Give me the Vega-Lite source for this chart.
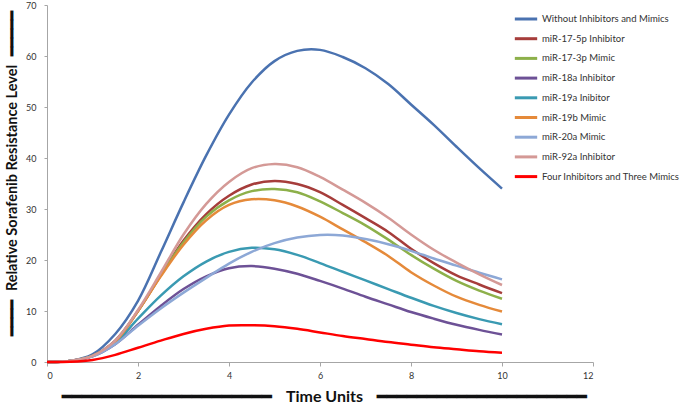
{
  "$schema": "https://vega.github.io/schema/vega-lite/v6.json",
  "width": 546,
  "height": 357,
  "autosize": {"type": "none"},
  "padding": {"left": 47, "top": 5, "right": 92, "bottom": 44},
  "background": "white",
  "config": {"view": {"stroke": null}, "font": "Lato"},
  "datasets": {
    "curves": [
      {"s": "Without Inhibitors and Mimics", "t": 0, "v": 0}, {"s": "Without Inhibitors and Mimics", "t": 0.5, "v": 0.2}, {"s": "Without Inhibitors and Mimics", "t": 1, "v": 1.5}, {"s": "Without Inhibitors and Mimics", "t": 1.5, "v": 5.5}, {"s": "Without Inhibitors and Mimics", "t": 2, "v": 12}, {"s": "Without Inhibitors and Mimics", "t": 2.5, "v": 21.5}, {"s": "Without Inhibitors and Mimics", "t": 3, "v": 31.3}, {"s": "Without Inhibitors and Mimics", "t": 3.5, "v": 40.5}, {"s": "Without Inhibitors and Mimics", "t": 4, "v": 48.5}, {"s": "Without Inhibitors and Mimics", "t": 4.5, "v": 54.8}, {"s": "Without Inhibitors and Mimics", "t": 5, "v": 59}, {"s": "Without Inhibitors and Mimics", "t": 5.5, "v": 61}, {"s": "Without Inhibitors and Mimics", "t": 6, "v": 61.2}, {"s": "Without Inhibitors and Mimics", "t": 6.5, "v": 59.8}, {"s": "Without Inhibitors and Mimics", "t": 7, "v": 57.6}, {"s": "Without Inhibitors and Mimics", "t": 7.5, "v": 54.5}, {"s": "Without Inhibitors and Mimics", "t": 8, "v": 50.5}, {"s": "Without Inhibitors and Mimics", "t": 8.5, "v": 46.5}, {"s": "Without Inhibitors and Mimics", "t": 9, "v": 42.2}, {"s": "Without Inhibitors and Mimics", "t": 9.5, "v": 38}, {"s": "Without Inhibitors and Mimics", "t": 10, "v": 34},

      {"s": "miR-17-5p Inhibitor", "t": 0, "v": 0}, {"s": "miR-17-5p Inhibitor", "t": 0.5, "v": 0.2}, {"s": "miR-17-5p Inhibitor", "t": 1, "v": 1.2}, {"s": "miR-17-5p Inhibitor", "t": 1.5, "v": 4.2}, {"s": "miR-17-5p Inhibitor", "t": 2, "v": 10}, {"s": "miR-17-5p Inhibitor", "t": 2.5, "v": 17}, {"s": "miR-17-5p Inhibitor", "t": 3, "v": 23.8}, {"s": "miR-17-5p Inhibitor", "t": 3.5, "v": 29}, {"s": "miR-17-5p Inhibitor", "t": 4, "v": 32.6}, {"s": "miR-17-5p Inhibitor", "t": 4.5, "v": 34.8}, {"s": "miR-17-5p Inhibitor", "t": 5, "v": 35.5}, {"s": "miR-17-5p Inhibitor", "t": 5.5, "v": 34.9}, {"s": "miR-17-5p Inhibitor", "t": 6, "v": 33.3}, {"s": "miR-17-5p Inhibitor", "t": 6.5, "v": 30.8}, {"s": "miR-17-5p Inhibitor", "t": 7, "v": 28.2}, {"s": "miR-17-5p Inhibitor", "t": 7.5, "v": 25.5}, {"s": "miR-17-5p Inhibitor", "t": 8, "v": 22.2}, {"s": "miR-17-5p Inhibitor", "t": 8.5, "v": 19.4}, {"s": "miR-17-5p Inhibitor", "t": 9, "v": 17}, {"s": "miR-17-5p Inhibitor", "t": 9.5, "v": 15.2}, {"s": "miR-17-5p Inhibitor", "t": 10, "v": 13.5},

      {"s": "miR-17-3p Mimic", "t": 0, "v": 0}, {"s": "miR-17-3p Mimic", "t": 0.5, "v": 0.2}, {"s": "miR-17-3p Mimic", "t": 1, "v": 1.2}, {"s": "miR-17-3p Mimic", "t": 1.5, "v": 4.1}, {"s": "miR-17-3p Mimic", "t": 2, "v": 10}, {"s": "miR-17-3p Mimic", "t": 2.5, "v": 17}, {"s": "miR-17-3p Mimic", "t": 3, "v": 23.5}, {"s": "miR-17-3p Mimic", "t": 3.5, "v": 28.5}, {"s": "miR-17-3p Mimic", "t": 4, "v": 31.7}, {"s": "miR-17-3p Mimic", "t": 4.5, "v": 33.5}, {"s": "miR-17-3p Mimic", "t": 5, "v": 33.9}, {"s": "miR-17-3p Mimic", "t": 5.5, "v": 33.3}, {"s": "miR-17-3p Mimic", "t": 6, "v": 31.5}, {"s": "miR-17-3p Mimic", "t": 6.5, "v": 29.2}, {"s": "miR-17-3p Mimic", "t": 7, "v": 26.8}, {"s": "miR-17-3p Mimic", "t": 7.5, "v": 24}, {"s": "miR-17-3p Mimic", "t": 8, "v": 21}, {"s": "miR-17-3p Mimic", "t": 8.5, "v": 18.3}, {"s": "miR-17-3p Mimic", "t": 9, "v": 15.9}, {"s": "miR-17-3p Mimic", "t": 9.5, "v": 14}, {"s": "miR-17-3p Mimic", "t": 10, "v": 12.4},

      {"s": "miR-18a Inhibitor", "t": 0, "v": 0}, {"s": "miR-18a Inhibitor", "t": 0.5, "v": 0.2}, {"s": "miR-18a Inhibitor", "t": 1, "v": 1.1}, {"s": "miR-18a Inhibitor", "t": 1.5, "v": 3.5}, {"s": "miR-18a Inhibitor", "t": 2, "v": 7.3}, {"s": "miR-18a Inhibitor", "t": 2.5, "v": 11}, {"s": "miR-18a Inhibitor", "t": 3, "v": 14.3}, {"s": "miR-18a Inhibitor", "t": 3.5, "v": 16.8}, {"s": "miR-18a Inhibitor", "t": 4, "v": 18.4}, {"s": "miR-18a Inhibitor", "t": 4.5, "v": 18.8}, {"s": "miR-18a Inhibitor", "t": 5, "v": 18.3}, {"s": "miR-18a Inhibitor", "t": 5.5, "v": 17.3}, {"s": "miR-18a Inhibitor", "t": 6, "v": 15.9}, {"s": "miR-18a Inhibitor", "t": 6.5, "v": 14.4}, {"s": "miR-18a Inhibitor", "t": 7, "v": 12.8}, {"s": "miR-18a Inhibitor", "t": 7.5, "v": 11.3}, {"s": "miR-18a Inhibitor", "t": 8, "v": 9.8}, {"s": "miR-18a Inhibitor", "t": 8.5, "v": 8.5}, {"s": "miR-18a Inhibitor", "t": 9, "v": 7.3}, {"s": "miR-18a Inhibitor", "t": 9.5, "v": 6.3}, {"s": "miR-18a Inhibitor", "t": 10, "v": 5.4},

      {"s": "miR-19a Inibitor", "t": 0, "v": 0}, {"s": "miR-19a Inibitor", "t": 0.5, "v": 0.2}, {"s": "miR-19a Inibitor", "t": 1, "v": 1.2}, {"s": "miR-19a Inibitor", "t": 1.5, "v": 3.8}, {"s": "miR-19a Inibitor", "t": 2, "v": 8.5}, {"s": "miR-19a Inibitor", "t": 2.5, "v": 13}, {"s": "miR-19a Inibitor", "t": 3, "v": 16.8}, {"s": "miR-19a Inibitor", "t": 3.5, "v": 19.7}, {"s": "miR-19a Inibitor", "t": 4, "v": 21.6}, {"s": "miR-19a Inibitor", "t": 4.5, "v": 22.4}, {"s": "miR-19a Inibitor", "t": 5, "v": 22.1}, {"s": "miR-19a Inibitor", "t": 5.5, "v": 21}, {"s": "miR-19a Inibitor", "t": 6, "v": 19.4}, {"s": "miR-19a Inibitor", "t": 6.5, "v": 17.7}, {"s": "miR-19a Inibitor", "t": 7, "v": 16}, {"s": "miR-19a Inibitor", "t": 7.5, "v": 14.3}, {"s": "miR-19a Inibitor", "t": 8, "v": 12.6}, {"s": "miR-19a Inibitor", "t": 8.5, "v": 11}, {"s": "miR-19a Inibitor", "t": 9, "v": 9.6}, {"s": "miR-19a Inibitor", "t": 9.5, "v": 8.4}, {"s": "miR-19a Inibitor", "t": 10, "v": 7.4},

      {"s": "miR-19b Mimic", "t": 0, "v": 0}, {"s": "miR-19b Mimic", "t": 0.5, "v": 0.2}, {"s": "miR-19b Mimic", "t": 1, "v": 1.2}, {"s": "miR-19b Mimic", "t": 1.5, "v": 4}, {"s": "miR-19b Mimic", "t": 2, "v": 10}, {"s": "miR-19b Mimic", "t": 2.5, "v": 16.8}, {"s": "miR-19b Mimic", "t": 3, "v": 23}, {"s": "miR-19b Mimic", "t": 3.5, "v": 27.8}, {"s": "miR-19b Mimic", "t": 4, "v": 30.8}, {"s": "miR-19b Mimic", "t": 4.5, "v": 31.9}, {"s": "miR-19b Mimic", "t": 5, "v": 31.7}, {"s": "miR-19b Mimic", "t": 5.5, "v": 30.5}, {"s": "miR-19b Mimic", "t": 6, "v": 28.5}, {"s": "miR-19b Mimic", "t": 6.5, "v": 26}, {"s": "miR-19b Mimic", "t": 7, "v": 23.5}, {"s": "miR-19b Mimic", "t": 7.5, "v": 20.8}, {"s": "miR-19b Mimic", "t": 8, "v": 17.6}, {"s": "miR-19b Mimic", "t": 8.5, "v": 15}, {"s": "miR-19b Mimic", "t": 9, "v": 12.8}, {"s": "miR-19b Mimic", "t": 9.5, "v": 11.2}, {"s": "miR-19b Mimic", "t": 10, "v": 9.9},

      {"s": "miR-20a Mimic", "t": 0, "v": 0}, {"s": "miR-20a Mimic", "t": 0.5, "v": 0.2}, {"s": "miR-20a Mimic", "t": 1, "v": 1.1}, {"s": "miR-20a Mimic", "t": 1.5, "v": 3.5}, {"s": "miR-20a Mimic", "t": 2, "v": 7.1}, {"s": "miR-20a Mimic", "t": 2.5, "v": 10.5}, {"s": "miR-20a Mimic", "t": 3, "v": 13.6}, {"s": "miR-20a Mimic", "t": 3.5, "v": 16.5}, {"s": "miR-20a Mimic", "t": 4, "v": 19.3}, {"s": "miR-20a Mimic", "t": 4.5, "v": 21.6}, {"s": "miR-20a Mimic", "t": 5, "v": 23.3}, {"s": "miR-20a Mimic", "t": 5.5, "v": 24.4}, {"s": "miR-20a Mimic", "t": 6, "v": 24.9}, {"s": "miR-20a Mimic", "t": 6.5, "v": 24.8}, {"s": "miR-20a Mimic", "t": 7, "v": 24.1}, {"s": "miR-20a Mimic", "t": 7.5, "v": 23.1}, {"s": "miR-20a Mimic", "t": 8, "v": 21.8}, {"s": "miR-20a Mimic", "t": 8.5, "v": 20.3}, {"s": "miR-20a Mimic", "t": 9, "v": 18.9}, {"s": "miR-20a Mimic", "t": 9.5, "v": 17.5}, {"s": "miR-20a Mimic", "t": 10, "v": 16.2},

      {"s": "miR-92a Inhibitor", "t": 0, "v": 0}, {"s": "miR-92a Inhibitor", "t": 0.5, "v": 0.2}, {"s": "miR-92a Inhibitor", "t": 1, "v": 1.2}, {"s": "miR-92a Inhibitor", "t": 1.5, "v": 4.2}, {"s": "miR-92a Inhibitor", "t": 2, "v": 10.2}, {"s": "miR-92a Inhibitor", "t": 2.5, "v": 17.5}, {"s": "miR-92a Inhibitor", "t": 3, "v": 25}, {"s": "miR-92a Inhibitor", "t": 3.5, "v": 31}, {"s": "miR-92a Inhibitor", "t": 4, "v": 35.3}, {"s": "miR-92a Inhibitor", "t": 4.5, "v": 38}, {"s": "miR-92a Inhibitor", "t": 5, "v": 38.8}, {"s": "miR-92a Inhibitor", "t": 5.5, "v": 38.2}, {"s": "miR-92a Inhibitor", "t": 6, "v": 36.3}, {"s": "miR-92a Inhibitor", "t": 6.5, "v": 33.8}, {"s": "miR-92a Inhibitor", "t": 7, "v": 31.2}, {"s": "miR-92a Inhibitor", "t": 7.5, "v": 28.3}, {"s": "miR-92a Inhibitor", "t": 8, "v": 25}, {"s": "miR-92a Inhibitor", "t": 8.5, "v": 22}, {"s": "miR-92a Inhibitor", "t": 9, "v": 19.5}, {"s": "miR-92a Inhibitor", "t": 9.5, "v": 17.2}, {"s": "miR-92a Inhibitor", "t": 10, "v": 15.1},

      {"s": "Four Inhibitors and Three Mimics", "t": 0, "v": 0}, {"s": "Four Inhibitors and Three Mimics", "t": 0.5, "v": 0.05}, {"s": "Four Inhibitors and Three Mimics", "t": 1, "v": 0.4}, {"s": "Four Inhibitors and Three Mimics", "t": 1.5, "v": 1.4}, {"s": "Four Inhibitors and Three Mimics", "t": 2, "v": 2.8}, {"s": "Four Inhibitors and Three Mimics", "t": 2.5, "v": 4.2}, {"s": "Four Inhibitors and Three Mimics", "t": 3, "v": 5.5}, {"s": "Four Inhibitors and Three Mimics", "t": 3.5, "v": 6.5}, {"s": "Four Inhibitors and Three Mimics", "t": 4, "v": 7.15}, {"s": "Four Inhibitors and Three Mimics", "t": 4.5, "v": 7.2}, {"s": "Four Inhibitors and Three Mimics", "t": 5, "v": 7.0}, {"s": "Four Inhibitors and Three Mimics", "t": 5.5, "v": 6.5}, {"s": "Four Inhibitors and Three Mimics", "t": 6, "v": 5.8}, {"s": "Four Inhibitors and Three Mimics", "t": 6.5, "v": 5.1}, {"s": "Four Inhibitors and Three Mimics", "t": 7, "v": 4.5}, {"s": "Four Inhibitors and Three Mimics", "t": 7.5, "v": 3.9}, {"s": "Four Inhibitors and Three Mimics", "t": 8, "v": 3.4}, {"s": "Four Inhibitors and Three Mimics", "t": 8.5, "v": 2.9}, {"s": "Four Inhibitors and Three Mimics", "t": 9, "v": 2.5}, {"s": "Four Inhibitors and Three Mimics", "t": 9.5, "v": 2.1}, {"s": "Four Inhibitors and Three Mimics", "t": 10, "v": 1.8}
    ]
  },
  "data": {"name": "curves"},
  "mark": {"type": "line", "interpolate": "catmull-rom", "strokeWidth": 2.5},
  "encoding": {
    "x": {
      "field": "t", "type": "quantitative",
      "scale": {"domain": [0, 12], "nice": false},
      "axis": {
        "values": [0, 2, 4, 6, 8, 10, 12], "grid": false,
        "domainColor": "#a6a6a6", "tickColor": "#a6a6a6", "tickSize": 4,
        "labelFont": "Lato", "labelFontSize": 9, "labelColor": "#333", "labelPadding": 5,
        "title": "━━━━━━━━━━━━━━━━━━━━━\u2003\u2009Time Units\u2003\u2009━━━━━━━━━━━━━━━━━━━━━",
        "titleFont": "Lato", "titleFontSize": 16, "titleFontWeight": "bold", "titleColor": "#111",
        "titlePadding": 8, "titleLimit": 700, "titleX": 277
      }
    },
    "y": {
      "field": "v", "type": "quantitative",
      "scale": {"domain": [0, 70], "nice": false},
      "axis": {
        "values": [0, 10, 20, 30, 40, 50, 60, 70], "grid": false,
        "domainColor": "#a6a6a6", "tickColor": "#a6a6a6", "tickSize": 3,
        "labelFont": "Lato", "labelFontSize": 9, "labelColor": "#333", "labelPadding": 8,
        "title": "━━━━\u2002\u2009Relative Sorafenib Resistance Level\u2002\u2009━━━━━",
        "titleFont": "Lato", "titleFontSize": 14.5, "titleFontWeight": "bold", "titleColor": "#111",
        "titlePadding": 6, "titleLimit": 500, "titleY": 168
      }
    },
    "color": {
      "field": "s", "type": "nominal",
      "scale": {
        "domain": ["Without Inhibitors and Mimics", "miR-17-5p Inhibitor", "miR-17-3p Mimic", "miR-18a Inhibitor", "miR-19a Inibitor", "miR-19b Mimic", "miR-20a Mimic", "miR-92a Inhibitor", "Four Inhibitors and Three Mimics"],
        "range": ["#4A72B0", "#A63D3B", "#8DB04A", "#6D5196", "#3A9AB2", "#E58A3A", "#8DA8D6", "#D49996", "#FF0000"]
      },
      "legend": {
        "title": null, "orient": "none", "legendX": 466, "legendY": 1,
        "symbolType": "stroke", "symbolStrokeWidth": 3, "symbolSize": 500,
        "labelFont": "Lato", "labelFontSize": 9.5, "labelColor": "#333", "labelLimit": 200,
        "rowPadding": 0.7, "labelOffset": 3
      }
    }
  }
}
